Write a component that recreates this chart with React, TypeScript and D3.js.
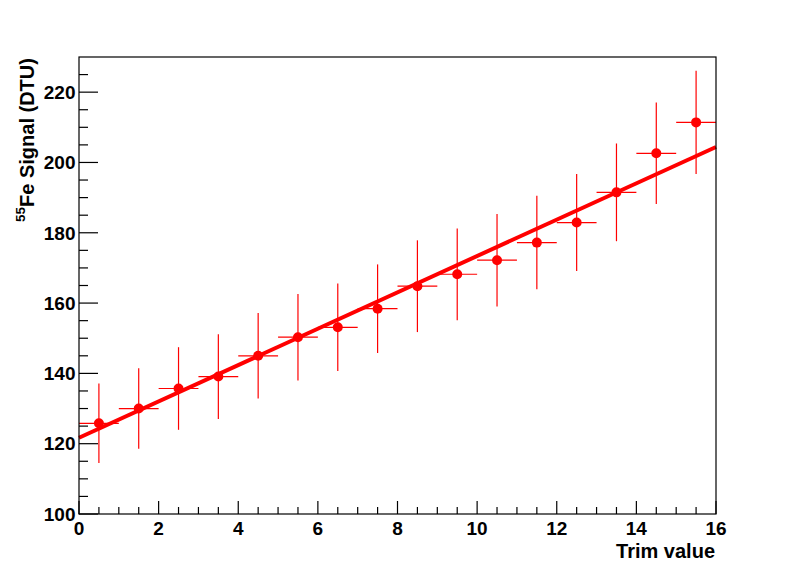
import * as d3 from 'd3'

// bin centres (trim value) and measured signal
const trimValues = [0.5, 1.5, 2.5, 3.5, 4.5, 5.5, 6.5, 7.5, 8.5, 9.5, 10.5, 11.5, 12.5, 13.5, 14.5, 15.5]
const signal = [125.8, 130.0, 135.7, 139.1, 145.0, 150.3, 153.1, 158.4, 164.8, 168.2, 172.2, 177.2, 182.9, 191.5, 202.6, 211.4]
const signalErr = [11.3, 11.45, 11.75, 12.05, 12.15, 12.3, 12.45, 12.6, 13.05, 13.05, 13.15, 13.3, 13.8, 13.9, 14.45, 14.7]
const binHalfWidth = 0.5

// linear fit, end points
const fitX = [0, 16]
const fitY = [121.7, 204.4]

const xMajor = [0, 2, 4, 6, 8, 10, 12, 14, 16]
const yMajor = [100, 120, 140, 160, 180, 200, 220]

export default function App() {
  const width = 796
  const height = 572
  const left = 79
  const right = 716
  const top = 57
  const bottom = 514

  const x = d3.scaleLinear([0, 16], [left, right])
  const y = d3.scaleLinear([100, 230], [bottom, top])

  const xMinor = d3.range(0, 16.01, 0.5).filter((v) => v % 2 !== 0)
  const yMinor = d3.range(100, 229, 5).filter((v) => v % 20 !== 0)

  const line = d3
    .line<number>()
    .x((_, i) => x(fitX[i]))
    .y((d) => y(d))

  const font = "'Liberation Sans', Arial, Helvetica, sans-serif"

  return (
    <svg
      width={width}
      height={height}
      style={{ position: 'absolute', left: 0, top: 0, background: 'white' }}
      fontFamily={font}
      fontWeight="bold"
    >
      <rect x={0} y={0} width={width} height={height} fill="white" />

      {/* data: error bars and markers */}
      <g stroke="#ff0000" strokeWidth={1.2}>
        {trimValues.map((t, i) => (
          <g key={i}>
            <line x1={x(t)} x2={x(t)} y1={y(signal[i] - signalErr[i])} y2={y(signal[i] + signalErr[i])} />
            <line x1={x(t - binHalfWidth)} x2={x(t + binHalfWidth)} y1={y(signal[i])} y2={y(signal[i])} />
          </g>
        ))}
      </g>
      <g fill="#ff0000">
        {trimValues.map((t, i) => (
          <circle key={i} cx={x(t)} cy={y(signal[i])} r={5} />
        ))}
      </g>

      {/* fit */}
      <path d={line(fitY) ?? ''} fill="none" stroke="#ff0000" strokeWidth={4} />

      {/* frame */}
      <rect x={left} y={top} width={right - left} height={bottom - top} fill="none" stroke="black" strokeWidth={1.2} />

      {/* ticks */}
      <g stroke="black" strokeWidth={1.2}>
        {xMajor.map((v) => (
          <line key={'xM' + v} x1={x(v)} x2={x(v)} y1={bottom} y2={bottom - 13} />
        ))}
        {xMinor.map((v) => (
          <line key={'xm' + v} x1={x(v)} x2={x(v)} y1={bottom} y2={bottom - 7} />
        ))}
        {yMajor.map((v) => (
          <line key={'yM' + v} x1={left} x2={left + 19} y1={y(v)} y2={y(v)} />
        ))}
        {yMinor.map((v) => (
          <line key={'ym' + v} x1={left} x2={left + 9} y1={y(v)} y2={y(v)} />
        ))}
      </g>

      {/* tick labels */}
      <g fontSize={19} fill="black">
        {xMajor.map((v) => (
          <text key={'xl' + v} x={x(v)} y={535} textAnchor="middle">
            {v}
          </text>
        ))}
        {yMajor.map((v) => (
          <text key={'yl' + v} x={75.5} y={y(v) + 6.8} textAnchor="end">
            {v}
          </text>
        ))}
      </g>

      {/* axis titles */}
      <text x={715} y={558} textAnchor="end" fontSize={20} fill="black">
        Trim value
      </text>
      <text transform="translate(34,222) rotate(-90)" textAnchor="start" fontSize={20} fill="black">
        <tspan fontSize={13.5} dy={-9}>55</tspan>
        <tspan dy={9}>Fe Signal (DTU)</tspan>
      </text>
    </svg>
  )
}
